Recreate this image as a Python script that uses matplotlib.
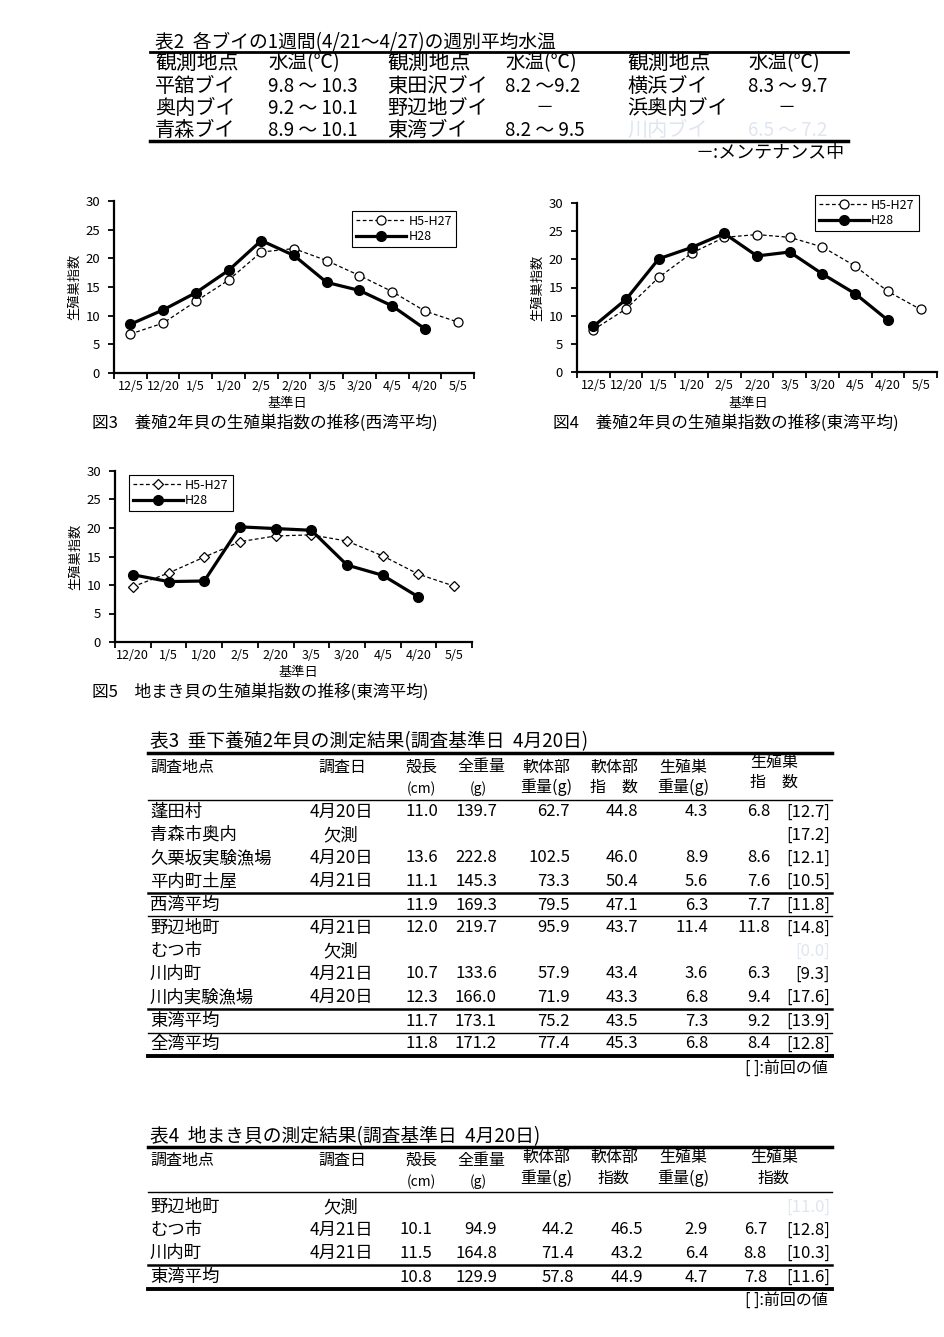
import matplotlib
matplotlib.use('Agg')
import matplotlib.pyplot as plt
from matplotlib.lines import Line2D

plt.rcParams['font.family'] = ['Noto Sans CJK JP', 'DejaVu Sans']

# ---------------- data ----------------
# Table 2: weekly mean water temperature per buoy
buoy_names = ['平舘ブイ', '奥内ブイ', '青森ブイ', '東田沢ブイ', '野辺地ブイ', '東湾ブイ', '横浜ブイ', '浜奥内ブイ', '川内ブイ']
buoy_temps = ['9.8 ～ 10.3', '9.2 ～ 10.1', '8.9 ～ 10.1', '8.2 ～9.2', '－', '8.2 ～ 9.5', '8.3 ～ 9.7', '－', '6.5 ～ 7.2']

# Figures 3-5
cats_34 = ['12/5', '12/20', '1/5', '1/20', '2/5', '2/20', '3/5', '3/20', '4/5', '4/20', '5/5']
west_avg = [6.8, 8.7, 12.5, 16.2, 21.1, 21.7, 19.6, 17.0, 14.2, 10.8, 8.9]
west_h28 = [8.5, 11.0, 14.0, 17.9, 23.1, 20.5, 15.8, 14.4, 11.7, 7.7]
east_avg = [7.5, 11.2, 16.8, 21.1, 23.9, 24.4, 23.9, 22.2, 18.8, 14.3, 11.1]
east_h28 = [8.1, 12.9, 20.1, 22.1, 24.6, 20.6, 21.3, 17.4, 13.9, 9.2]
cats_5 = ['12/20', '1/5', '1/20', '2/5', '2/20', '3/5', '3/20', '4/5', '4/20', '5/5']
bottom_avg = [9.7, 12.1, 14.9, 17.6, 18.6, 18.8, 17.7, 15.1, 11.9, 9.8]
bottom_h28 = [11.8, 10.6, 10.7, 20.2, 19.9, 19.6, 13.5, 11.7, 7.9]

# Table 3: hanging culture 2-year shells
sites3 = ['蓬田村', '青森市奥内', '久栗坂実験漁場', '平内町土屋', '西湾平均', '野辺地町', 'むつ市', '川内町', '川内実験漁場', '東湾平均', '全湾平均']
dates3 = ['4月20日', '欠測', '4月20日', '4月21日', '', '4月21日', '欠測', '4月21日', '4月20日', '', '']
shell3 = ['11.0', '', '13.6', '11.1', '11.9', '12.0', '', '10.7', '12.3', '11.7', '11.8']
total3 = ['139.7', '', '222.8', '145.3', '169.3', '219.7', '', '133.6', '166.0', '173.1', '171.2']
softw3 = ['62.7', '', '102.5', '73.3', '79.5', '95.9', '', '57.9', '71.9', '75.2', '77.4']
softi3 = ['44.8', '', '46.0', '50.4', '47.1', '43.7', '', '43.4', '43.3', '43.5', '45.3']
gonw3 = ['4.3', '', '8.9', '5.6', '6.3', '11.4', '', '3.6', '6.8', '7.3', '6.8']
gsi3 = ['6.8', '', '8.6', '7.6', '7.7', '11.8', '', '6.3', '9.4', '9.2', '8.4']
prev3 = ['[12.7]', '[17.2]', '[12.1]', '[10.5]', '[11.8]', '[14.8]', '[0.0]', '[9.3]', '[17.6]', '[13.9]', '[12.8]']

# Table 4: bottom-sown shells
sites4 = ['野辺地町', 'むつ市', '川内町', '東湾平均']
dates4 = ['欠測', '4月21日', '4月21日', '']
shell4 = ['', '10.1', '11.5', '10.8']
total4 = ['', '94.9', '164.8', '129.9']
softw4 = ['', '44.2', '71.4', '57.8']
softi4 = ['', '46.5', '43.2', '44.9']
gonw4 = ['', '2.9', '6.4', '4.7']
gsi4 = ['', '6.7', '8.8', '7.8']
prev4 = ['[11.0]', '[12.8]', '[10.3]', '[11.6]']

FAINT = '#dfe6ef'

# ---------------- figure ----------------
W, H = 944, 1337
fig = plt.figure(figsize=(W / 100, H / 100), dpi=100)
fig.patch.set_facecolor('white')


def fx(x):
    return x / W


def fy(y):
    return 1 - y / H


def txt(x, y, s, size=12, ha='left', color='black'):
    fig.text(fx(x), fy(y), s, fontsize=size, ha=ha, va='center', color=color)


def hline(x0, x1, y, lw=1.0):
    fig.add_artist(Line2D([fx(x0), fx(x1)], [fy(y), fy(y)], color='black',
                          lw=lw, transform=fig.transFigure))


def chart(rect, cats, avg, cur, avg_marker, avg_ms, leg_xy, caption, cap_xy, xlab_xy):
    x0, y0, x1, y1 = rect
    ax = fig.add_axes([fx(x0), fy(y1), (x1 - x0) / W, (y1 - y0) / H])
    xs = list(range(len(cats)))
    ax.plot(xs[:len(avg)], avg, ls=(0, (3, 2)), color='black', lw=0.9,
            marker=avg_marker, ms=avg_ms, mfc='white', mec='black', mew=0.9,
            label='H5-H27')
    ax.plot(xs[:len(cur)], cur, ls='-', color='black', lw=2.3,
            marker='o', ms=7, mfc='black', mec='black', label='H28')
    ax.set_xlim(-0.5, len(cats) - 0.5)
    ax.set_ylim(0, 30)
    ax.set_yticks(range(0, 31, 5))
    ax.set_xticks(xs)
    ax.set_xticklabels(cats)
    ax.set_xticks([i - 0.5 for i in range(len(cats) + 1)], minor=True)
    ax.tick_params(axis='x', which='major', length=0, pad=5, labelsize=9)
    ax.tick_params(axis='x', which='minor', length=4, width=1.3, direction='out')
    ax.tick_params(axis='y', length=4, width=1.3, direction='out', labelsize=9.5, pad=6)
    for s in ['top', 'right']:
        ax.spines[s].set_visible(False)
    for s in ['left', 'bottom']:
        ax.spines[s].set_linewidth(1.6)
    ax.set_ylabel('生殖巣指数', fontsize=9.5, labelpad=3)
    leg = ax.legend(loc='upper left', bbox_to_anchor=(fx(leg_xy[0]), fy(leg_xy[1])),
                    bbox_transform=fig.transFigure, borderaxespad=0, fancybox=False,
                    edgecolor='black', framealpha=1, fontsize=9, handlelength=4.0,
                    borderpad=0.3, labelspacing=0.2, handletextpad=0.2)
    leg.get_frame().set_linewidth(0.8)
    txt(xlab_xy[0], xlab_xy[1], '基準日', size=9.5, ha='center')
    txt(cap_xy[0], cap_xy[1], caption, size=12)
    return ax


chart((114, 201, 474, 373), cats_34, west_avg, west_h28, 'o', 6.5, (352, 211),
      '図3　養殖2年貝の生殖巣指数の推移(西湾平均)', (92, 423), (287, 404))
chart((577, 203, 937, 372), cats_34, east_avg, east_h28, 'o', 6.5, (815, 195),
      '図4　養殖2年貝の生殖巣指数の推移(東湾平均)', (553, 423), (748, 404))
chart((115, 471, 472, 642), cats_5, bottom_avg, bottom_h28, 'D', 5, (129, 475),
      '図5　地まき貝の生殖巣指数の推移(東湾平均)', (92, 692), (298, 673))

# ---------------- Table 2 ----------------
txt(155, 43, '表2  各ブイの1週間(4/21～4/27)の週別平均水温', size=13.5)
hline(150, 848, 52, lw=2.0)
t2_name_x = [155, 387, 627]
t2_temp_x = [268, 505, 748]
t2_dash_x = [300, 545, 787]
for c in range(3):
    txt(t2_name_x[c], 63, '観測地点', size=15)
    txt(t2_temp_x[c], 63, '水温(℃)', size=14)
    for r in range(3):
        i = c * 3 + r
        y = 86 + r * 22
        col = FAINT if buoy_names[i] == '川内ブイ' else 'black'
        txt(t2_name_x[c], y, buoy_names[i], size=14.5, color=col)
        if buoy_temps[i] == '－':
            txt(t2_dash_x[c], y, buoy_temps[i], size=13, ha='center', color=col)
        else:
            txt(t2_temp_x[c], y, buoy_temps[i], size=13.5, color=col)
hline(150, 848, 141, lw=2.5)
txt(845, 153, '－:メンテナンス中', size=13, ha='right')

# ---------------- Table 3 ----------------
num_right3 = [438, 497, 570, 638, 708, 770, 830]
hsz = 11.5
txt(150, 742, '表3  垂下養殖2年貝の測定結果(調査基準日  4月20日)', size=13.5)
hline(148, 832, 753, lw=2.5)
txt(150, 767, '調査地点', size=hsz)
txt(318, 767, '調査日', size=hsz)
txt(421, 767, '殻長', size=hsz, ha='center')
txt(481, 767, '全重量', size=hsz, ha='center')
txt(546, 767, '軟体部', size=hsz, ha='center')
txt(614, 767, '軟体部', size=hsz, ha='center')
txt(683, 767, '生殖巣', size=hsz, ha='center')
txt(774, 762, '生殖巣', size=hsz, ha='center')
txt(421, 789, '(cm)', size=hsz - 1.5, ha='center')
txt(478, 789, '(g)', size=hsz - 1.5, ha='center')
txt(546, 787, '重量(g)', size=hsz, ha='center')
txt(614, 787, '指　数', size=hsz, ha='center')
txt(683, 787, '重量(g)', size=hsz, ha='center')
txt(774, 782, '指　数', size=hsz, ha='center')
hline(148, 832, 800, lw=1.0)
rows_y3 = [812, 835, 858, 881, 905, 928, 951, 974, 997, 1021, 1044]
cols3 = [shell3, total3, softw3, softi3, gonw3, gsi3, prev3]
for i, y in enumerate(rows_y3):
    txt(150, y, sites3[i], size=12.5)
    if dates3[i]:
        txt(341, y, dates3[i], size=12.5, ha='center')
    for j, col in enumerate(cols3):
        s = col[i]
        if s:
            color = FAINT if s == '[0.0]' else 'black'
            txt(num_right3[j], y, s, size=12, ha='right', color=color)
hline(148, 832, 893, lw=1.8)
hline(148, 832, 916, lw=1.0)
hline(148, 832, 1009, lw=1.8)
hline(148, 832, 1033, lw=1.0)
hline(148, 832, 1056, lw=2.8)
txt(828, 1068, '[ ]:前回の値', size=11.5, ha='right')

# ---------------- Table 4 ----------------
num_right4 = [432, 497, 574, 643, 708, 767, 830]
txt(150, 1137, '表4  地まき貝の測定結果(調査基準日  4月20日)', size=13.5)
hline(148, 832, 1147, lw=2.5)
txt(150, 1160, '調査地点', size=hsz)
txt(318, 1160, '調査日', size=hsz)
txt(421, 1160, '殻長', size=hsz, ha='center')
txt(481, 1160, '全重量', size=hsz, ha='center')
txt(546, 1157, '軟体部', size=hsz, ha='center')
txt(614, 1157, '軟体部', size=hsz, ha='center')
txt(683, 1157, '生殖巣', size=hsz, ha='center')
txt(774, 1157, '生殖巣', size=hsz, ha='center')
txt(421, 1182, '(cm)', size=hsz - 1.5, ha='center')
txt(478, 1182, '(g)', size=hsz - 1.5, ha='center')
txt(546, 1178, '重量(g)', size=hsz, ha='center')
txt(614, 1178, '指数', size=hsz, ha='center')
txt(683, 1178, '重量(g)', size=hsz, ha='center')
txt(774, 1178, '指数', size=hsz, ha='center')
hline(148, 832, 1192, lw=1.0)
rows_y4 = [1207, 1230, 1253, 1277]
cols4 = [shell4, total4, softw4, softi4, gonw4, gsi4, prev4]
for i, y in enumerate(rows_y4):
    txt(150, y, sites4[i], size=12.5)
    if dates4[i]:
        txt(341, y, dates4[i], size=12.5, ha='center')
    for j, col in enumerate(cols4):
        s = col[i]
        if s:
            color = FAINT if (i == 0 and j == 6) else 'black'
            txt(num_right4[j], y, s, size=12, ha='right', color=color)
hline(148, 832, 1265, lw=1.8)
hline(148, 832, 1289, lw=2.8)
txt(828, 1300, '[ ]:前回の値', size=11.5, ha='right')

fig.savefig('out.png', dpi=100, facecolor='white')
